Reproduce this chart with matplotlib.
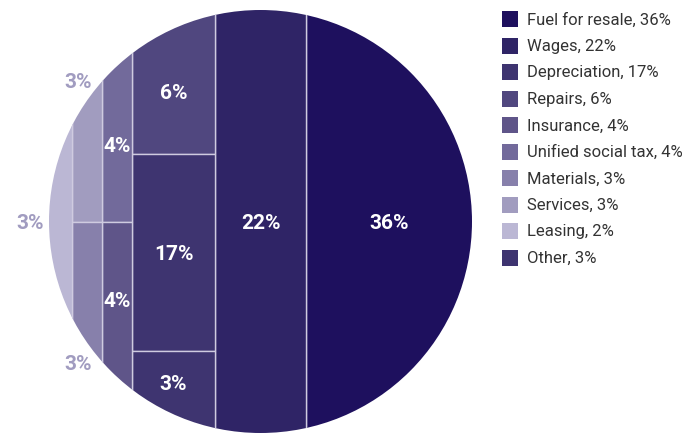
import numpy as np
import matplotlib
matplotlib.use("Agg")
import matplotlib.pyplot as plt
from matplotlib.patches import Circle, Rectangle

plt.rcParams['font.family'] = ['Roboto', 'DejaVu Sans']

# ---------------- data ----------------
categories = ["Fuel for resale", "Wages", "Depreciation", "Repairs", "Insurance",
              "Unified social tax", "Materials", "Services", "Leasing", "Other"]
values = [36, 22, 17, 6, 4, 4, 3, 3, 2, 3]
cell_labels = ["36%", "22%", "17%", "6%", "4%", "4%", "3%", "3%", "3%", "3%"]
colors = ["#1e105e", "#2f2466", "#3e3470", "#50477f", "#5f5589",
          "#726a9b", "#8780ab", "#a19cbf", "#bbb7d4", "#3e3470"]

# ---------------- layout (pixel space) ----------------
W, H = 692, 435
cx, cy, R = 260.5, 222.5, 211.5
# columns from right to left: (x_left, x_right, [(index, y_top, y_bottom), ...])
BIG = 1000
columns = [
    (306, BIG, [(0, -BIG, BIG)]),
    (215, 306, [(1, -BIG, BIG)]),
    (132, 215, [(3, -BIG, 155), (2, 155, 352), (9, 352, BIG)]),
    (102, 132, [(5, -BIG, 223), (4, 223, BIG)]),
    (72, 102, [(7, -BIG, 223), (6, 223, BIG)]),
    (-BIG, 72, [(8, -BIG, BIG)]),
]
outside_cols = {4, 5}

fig = plt.figure(figsize=(W / 100, H / 100), dpi=100)
ax = fig.add_axes([0, 0, 1, 1])
ax.set_xlim(0, W)
ax.set_ylim(H, 0)
ax.axis("off")

clip = Circle((cx, cy), R, transform=ax.transData, facecolor="none", edgecolor="none")
ax.add_patch(clip)

label_color_out = "#a19cc0"
sep_color = "#cfcbe0"

for ci, (x0, x1, cells) in enumerate(columns):
    for (idx, y0, y1) in cells:
        r = Rectangle((x0, y0), x1 - x0, y1 - y0, facecolor=colors[idx],
                      edgecolor=sep_color, linewidth=1.0)
        ax.add_patch(r)
        r.set_clip_path(clip)
        # label
        vx0, vx1 = max(x0, cx - R), min(x1, cx + R)
        xm = (vx0 + vx1) / 2
        if ci not in outside_cols:
            half = np.sqrt(max(R ** 2 - (xm - cx) ** 2, 0))
            ty0 = max(y0, cy - half)
            ty1 = min(y1, cy + half)
            ym = (ty0 + ty1) / 2
            ax.text(xm, ym + 1, cell_labels[idx], color="white", fontsize=15,
                    fontweight="bold", ha="center", va="center")
        else:
            # arc midpoint of the visible region on the circle boundary
            xs = np.linspace(vx0, vx1, 400)
            hs = np.sqrt(np.clip(R ** 2 - (xs - cx) ** 2, 0, None))
            pts = []
            for xx, hh in zip(xs, hs):
                for yy in (cy - hh, cy + hh):
                    if y0 <= yy <= y1:
                        pts.append(np.arctan2(yy - cy, xx - cx))
            ang = np.array(pts)
            ang = np.where(ang < 0, ang + 2 * np.pi, ang)
            a = (ang.min() + ang.max()) / 2
            a = np.pi + (a - np.pi) * 1.1
            rr = R + 19
            ax.text(cx + rr * np.cos(a), cy + rr * np.sin(a) + 1, cell_labels[idx],
                    color=label_color_out, fontsize=15, fontweight="bold",
                    ha="center", va="center")

# ---------------- legend ----------------
lx, ly0, dy, sq = 502, 20, 26.5, 16
for i, (name, v) in enumerate(zip(categories, values)):
    y = ly0 + i * dy
    ax.add_patch(Rectangle((lx, y - sq / 2), sq, sq, facecolor=colors[i], edgecolor="none"))
    ax.text(lx + 25, y, f"{name}, {v}%", color="#333333", fontsize=12,
            ha="left", va="center")

fig.savefig("out.png", dpi=100)
